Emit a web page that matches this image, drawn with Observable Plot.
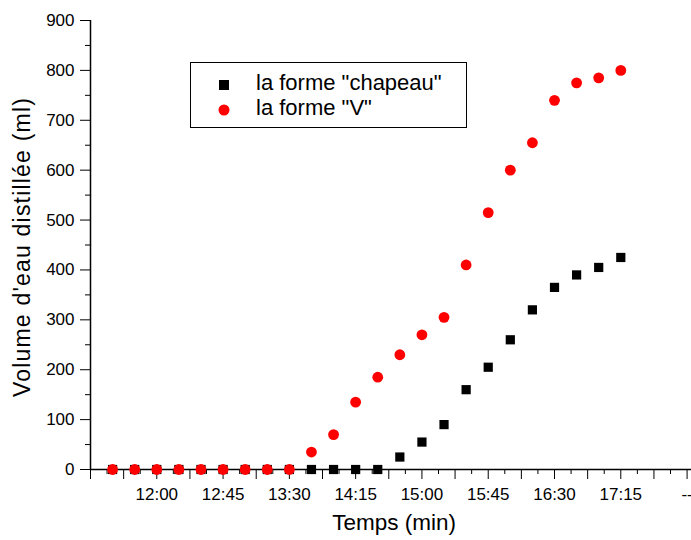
<!DOCTYPE html>
<html>
<head>
<meta charset="utf-8">
<script src="https://cdn.jsdelivr.net/npm/d3@7"></script>
<script src="https://cdn.jsdelivr.net/npm/@observablehq/plot@0.6"></script>
<style>
  html, body { margin: 0; padding: 0; background: #fff; }
  #wrap { position: relative; width: 691px; height: 540px; font-family: Arial, "Liberation Sans", sans-serif; }
  #legend { position: absolute; left: 190px; top: 62px; width: 275px; height: 64px; border: 1px solid #000; background: #fff; }
  .row { position: absolute; left: 0; height: 24px; }
  .sym { position: absolute; left: 27px; }
  .lab { position: absolute; left: 65px; font-size: 22px; color: #000; white-space: nowrap; line-height: 24px; }
</style>
</head>
<body>
<div id="wrap">
  <div id="chart"></div>
  <div id="legend"></div>
</div>
<script>
// ---- data ----
const times = ["11:30","11:45","12:00","12:15","12:30","12:45","13:00","13:15","13:30",
               "13:45","14:00","14:15","14:30","14:45","15:00","15:15","15:30","15:45",
               "16:00","16:15","16:30","16:45","17:00","17:15"];
const chapeau = [0,0,0,0,0,0,0,0,0, 0,0,0,0, 25,55,90,160,205,260,320,365,390,405,425];
const formeV  = [0,0,0,0,0,0,0,0,0, 35,70,135,185,230,270,305,410,515,600,655,740,775,785,800];
const seriesNames = ['la forme "chapeau"', 'la forme "V"'];
const xTickTimes  = ["12:00","12:45","13:30","14:15","15:00","15:45","16:30","17:15","18:00"];
const xTickLabels = ["12:00","12:45","13:30","14:15","15:00","15:45","16:30","17:15","--"];
const xTitle = "Temps (min)";
const yTitle = "Volume d'eau distillée (ml)";

const toMin = s => { const [h, m] = s.split(":").map(Number); return h * 60 + m; };
const dataC = times.map((t, i) => ({x: toMin(t), y: chapeau[i]}));
const dataV = times.map((t, i) => ({x: toMin(t), y: formeV[i]}));

const xDomain = [toMin("11:15"), toMin("18:03")];
const yDomain = [0, 900];
const labelMap = new Map(xTickTimes.map((t, i) => [toMin(t), xTickLabels[i]]));
const xMajor = d3.range(toMin("11:15"), toMin("18:00") + 1, 22.5);
const xMinor = xMajor.map(v => v + 11.25).filter(v => v < xDomain[1]);
const yMajor = d3.range(0, 901, 100);
const yMinor = d3.range(50, 900, 100);

const font = 'Arial, "Liberation Sans", sans-serif';

const chart = Plot.plot({
  width: 691,
  height: 540,
  marginLeft: 90,
  marginRight: 0,
  marginTop: 20,
  marginBottom: 71,
  style: {fontFamily: font, fontSize: "17px", color: "#000", background: "#fff"},
  x: {type: "linear", domain: xDomain},
  y: {domain: yDomain},
  marks: [
    Plot.axisY({ticks: yMajor, tickSize: 10, tickPadding: 6, fontSize: 17, label: null, tickFormat: d => String(d)}),
    Plot.axisY({ticks: yMinor, tickSize: 5, label: null, tickFormat: () => ""}),
    Plot.axisX({ticks: xMajor, tickSize: 10, tickPadding: 8, fontSize: 17, label: null,
                tickFormat: d => labelMap.get(d) ?? ""}),
    Plot.axisX({ticks: xMinor, tickSize: 5, label: null, tickFormat: () => ""}),
    Plot.ruleY([yDomain[0]], {stroke: "#000", strokeWidth: 1.5}),
    Plot.ruleX([xDomain[0]], {stroke: "#000", strokeWidth: 1.5}),
    Plot.dot(dataC, {x: "x", y: "y", symbol: "square", r: 5.2, fill: "#000", stroke: null}),
    Plot.dot(dataV, {x: "x", y: "y", symbol: "circle", r: 5.4, fill: "#ff0000", stroke: null}),
    Plot.text([xTitle], {text: d => d, frameAnchor: "bottom", dy: 60, dx: 3, fontSize: 22.5}),
    Plot.text([yTitle], {text: d => d, frameAnchor: "left", textAnchor: "middle", rotate: -90, dx: -68, dy: 2, fontSize: 23})
  ]
});
document.getElementById("chart").appendChild(chart);
// slightly wider letter spacing for the vertical title, as in the reference
chart.querySelectorAll("text").forEach(t => {
  if (t.textContent === yTitle) t.setAttribute("letter-spacing", "1.2");
});

// legend
const legend = document.getElementById("legend");
const syms = [
  '<svg width="12" height="12"><rect x="1" y="1" width="10" height="10" fill="#000"/></svg>',
  '<svg width="12" height="12"><circle cx="6" cy="6" r="5.5" fill="#ff0000"/></svg>'
];
seriesNames.forEach((name, i) => {
  const row = document.createElement("div");
  row.className = "row";
  row.style.top = (8 + i * 25) + "px";
  row.style.width = "100%";
  row.innerHTML = '<span class="sym" style="top:6px">' + syms[i] + '</span><span class="lab">' + name + '</span>';
  legend.appendChild(row);
});
</script>
</body>
</html>
